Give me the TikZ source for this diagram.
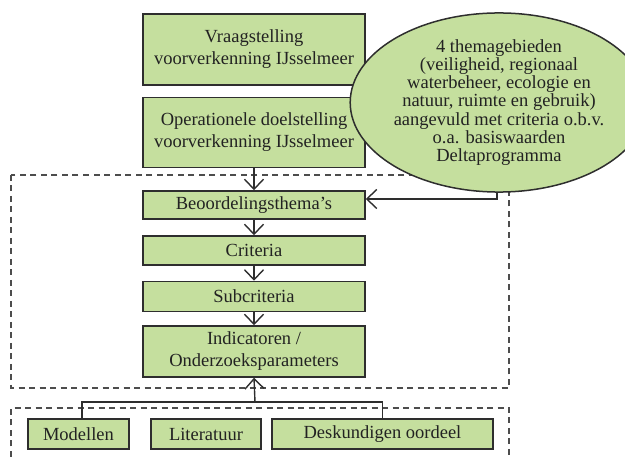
\documentclass[tikz,border=0pt]{standalone}
\usepackage{fontspec}
\setmainfont{Liberation Serif}
\usetikzlibrary{arrows.meta,shapes.geometric}
\definecolor{boxgreen}{HTML}{C5DF9E}
\definecolor{edgecol}{HTML}{2E2E2E}
\definecolor{txt}{HTML}{222222}
\tikzset{
  box/.style={draw=edgecol, line width=1.5pt, fill=boxgreen, minimum width=222pt,
    inner sep=0pt, align=center, text=txt, font=\fontsize{18.5}{22}\selectfont},
  smallbox/.style={box, minimum height=30pt},
  conn/.style={draw=edgecol, line width=1.4pt},
  arr/.style={conn, -{Straight Barb[length=10pt,width=19pt,line width=1.4pt]}},
  dashbox/.style={draw=edgecol!85, line width=1.1pt, dash pattern=on 6pt off 4.5pt},
  ell/.style={ellipse, draw=edgecol, line width=1.5pt, fill=boxgreen, inner sep=0pt,
    minimum width=252pt, minimum height=175pt, align=center, text=txt,
    font=\fontsize{18.5}{18.3}\selectfont}
}
\begin{document}
\begin{tikzpicture}[x=1pt,y=1pt]
\useasboundingbox (0,0) rectangle (625,-457);
% dashed frames
\draw[dashbox] (11,-175) rectangle (509,-388);
\draw[dashbox] (11,-457) -- (11,-408) -- (509,-408) -- (509,-457);
% main column
\node[box, minimum height=71pt] (v1) at (254,-49.5) {Vraagstelling\\voorverkenning IJsselmeer};
\node[box, minimum height=70pt] (v2) at (254,-132.5) {Operationele doelstelling\\voorverkenning IJsselmeer};
\node[box, minimum height=28pt] (b) at (254,-205) {Beoordelingsthema’s};
\node[box, minimum height=29pt] (c) at (254,-250.5) {Criteria};
\node[box, minimum height=30pt] (s) at (254,-296.5) {Subcriteria};
\node[box, minimum height=51pt] (i) at (254,-351.5) {Indicatoren /\\Onderzoeksparameters};
% ellipse
\node[ell] (e) at (499,-102.5) {4 themagebieden\\(veiligheid, regionaal\\waterbeheer, ecologie en\\natuur, ruimte en gebruik)\\aangevuld met criteria o.b.v.\\o.a. basiswaarden\\Deltaprogramma};
% bottom boxes
\node[smallbox, minimum width=101pt] (m) at (78.5,-434) {Modellen};
\node[smallbox, minimum width=110pt] (l) at (206,-434) {Literatuur};
\node[smallbox, minimum width=221pt] (d) at (382.5,-434) {Deskundigen oordeel};
% arrows
\draw[arr] (v2.south) -- (b.north);
\draw[arr] (b.south) -- (c.north);
\draw[arr] (c.south) -- (s.north);
\draw[arr] (s.south) -- (i.north);
\draw[arr] ([xshift=-2pt]e.south) |- ([yshift=6pt]b.east);
\coordinate (j) at (255,-402);
\draw[conn] ([xshift=3.5pt]m.north) |- (j);
\draw[conn] (d.north) |- (j);
\draw[arr] (j) -- (i.south);
\end{tikzpicture}
\end{document}
